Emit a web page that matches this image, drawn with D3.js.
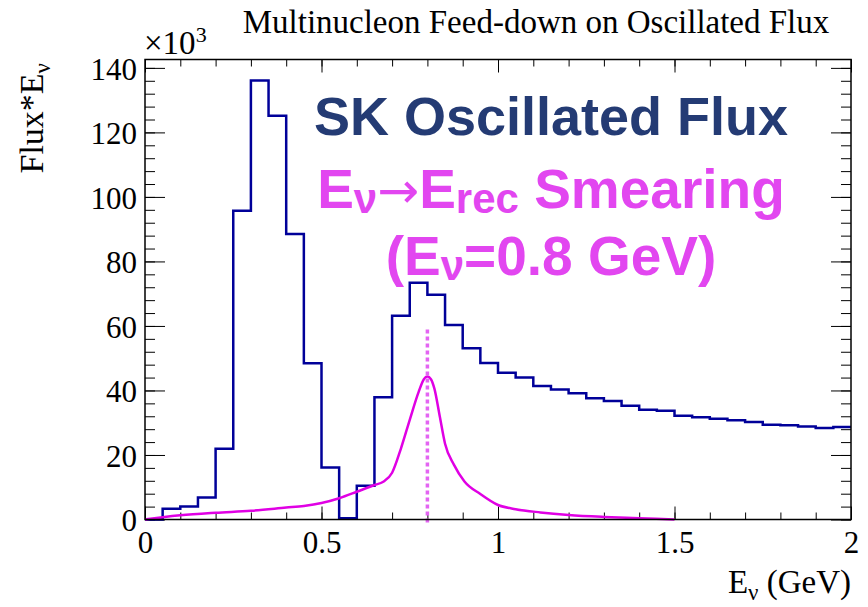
<!DOCTYPE html>
<html>
<head>
<meta charset="utf-8">
<script src="https://cdn.jsdelivr.net/npm/d3@7"></script>
<style>
  body { margin: 0; background: #fff; }
  svg { display: block; }
</style>
</head>
<body>
<div id="chart"></div>
<script>
// SK oscillated flux histogram, bins of 0.05 GeV from 0 to 2 (x10^3)
var binWidth = 0.05;
var fluxValues = [0, 3.3, 4.0, 6.8, 21.9, 95.7, 136.1, 125.2, 88.5, 48.4,
                  16.1, 0.4, 10.5, 37.9, 63.2, 73.4, 69.7, 60.3, 53.1, 48.5,
                  45.5, 44.0, 41.4, 40.3, 39.1, 37.6, 36.7, 35.3, 34.0, 33.7,
                  32.2, 31.7, 31.2, 30.8, 30.2, 29.4, 29.2, 28.8, 28.4, 28.7];

// Ev -> Erec smearing curve for Ev = 0.8 GeV
var smearE = [0, 0.05, 0.1, 0.2, 0.3, 0.4, 0.45, 0.5, 0.55, 0.6, 0.65, 0.675, 0.7,
              0.725, 0.75, 0.775, 0.79, 0.8, 0.81, 0.82, 0.835, 0.85, 0.875, 0.905,
              0.95, 1.0, 1.05, 1.12, 1.2, 1.3, 1.4, 1.5];
var smearValues = [0, 0.7, 1.3, 2.1, 2.7, 3.7, 4.2, 5.1, 6.6, 8.6, 10.7, 11.7, 14.5,
                   22.0, 30.9, 39.5, 43.5, 44.3, 43.5, 40.5, 32.0, 23.5, 17.0, 11.8,
                   7.9, 4.5, 3.2, 2.2, 1.4, 0.8, 0.4, 0];
var trueEnergy = 0.8;
var markerTop = 59;

var xMajorTicks = [0, 0.5, 1, 1.5, 2];
var yMajorTicks = [0, 20, 40, 60, 80, 100, 120, 140];

var width = 868,
    height = 607,
    margin = {top: 59.5, right: 17, bottom: 87.5, left: 145};

var serif = "'Liberation Serif', 'Times New Roman', serif";
var sans = "'Liberation Sans', Arial, sans-serif";
var navy = "#000099";
var magenta = "#e000e4";
var textMagenta = "#e246f0";

var svg = d3.select("#chart").append("svg")
    .attr("width", width)
    .attr("height", height);

var x = d3.scaleLinear().domain([0, 2]).range([margin.left, width - margin.right]);
var y = d3.scaleLinear().domain([0, 142.6]).range([height - margin.bottom, margin.top]);

var xMinor = d3.range(0, 21).map(function(i) { return i / 10; });
var yMinor = d3.range(0, 36).map(function(i) { return i * 4; });

// axes, ROOT style ticks pointing inward
function drawAxis(axis, tx, ty) {
    var g = svg.append("g").attr("transform", "translate(" + tx + "," + ty + ")").call(axis);
    g.attr("font-family", serif).attr("font-size", 31);
    g.select(".domain").remove();
    g.selectAll("line").attr("stroke", "#000").attr("stroke-width", 1);
    g.selectAll("text").attr("font-family", serif).attr("font-size", 31).attr("fill", "#000");
    return g;
}
var bottomY = y(0), topY = y(142.6), leftX = x(0), rightX = x(2);

drawAxis(d3.axisBottom(x).tickValues(xMinor).tickSize(-7).tickFormat(""), 0, bottomY);
drawAxis(d3.axisBottom(x).tickValues(xMajorTicks).tickSize(-13).tickPadding(11)
    .tickFormat(d3.format("")), 0, bottomY);
drawAxis(d3.axisTop(x).tickValues(xMinor).tickSize(-7).tickFormat(""), 0, topY);
drawAxis(d3.axisTop(x).tickValues(xMajorTicks).tickSize(-13).tickFormat(""), 0, topY);

drawAxis(d3.axisLeft(y).tickValues(yMinor).tickSize(-10).tickFormat(""), leftX, 0);
var yAx = drawAxis(d3.axisLeft(y).tickValues(yMajorTicks).tickSize(-20).tickPadding(8), leftX, 0);
yAx.selectAll("text").attr("dy", "0.36em");
drawAxis(d3.axisRight(y).tickValues(yMinor).tickSize(-10).tickFormat(""), rightX, 0);
drawAxis(d3.axisRight(y).tickValues(yMajorTicks).tickSize(-20).tickFormat(""), rightX, 0);

// histogram outline
var histPoints = fluxValues.map(function(v, i) { return [i * binWidth, v]; });
histPoints.unshift([0, 0]);
histPoints.push([fluxValues.length * binWidth, fluxValues[fluxValues.length - 1]]);

var stepLine = d3.line()
    .x(function(d) { return x(d[0]); })
    .y(function(d) { return y(d[1]); })
    .curve(d3.curveStepAfter);

svg.append("path")
    .datum(histPoints)
    .attr("d", stepLine)
    .attr("fill", "none")
    .attr("stroke", navy)
    .attr("stroke-width", 2.5);

// smearing curve
var smearLine = d3.line()
    .x(function(d, i) { return x(smearE[i]); })
    .y(function(d) { return y(d); })
    .curve(d3.curveMonotoneX);

svg.append("path")
    .datum(smearValues)
    .attr("d", smearLine)
    .attr("fill", "none")
    .attr("stroke", magenta)
    .attr("stroke-width", 2.5);

svg.append("line")
    .attr("x1", x(trueEnergy)).attr("x2", x(trueEnergy))
    .attr("y1", y(0) + 3).attr("y2", y(markerTop))
    .attr("stroke", "#e364f2")
    .attr("stroke-width", 3.5)
    .attr("stroke-dasharray", "4,3");

// frame
svg.append("rect")
    .attr("x", leftX).attr("y", topY)
    .attr("width", rightX - leftX).attr("height", bottomY - topY)
    .attr("fill", "none")
    .attr("stroke", "#000")
    .attr("stroke-width", 1.5);

// title and axis titles
svg.append("text")
    .attr("x", 536).attr("y", 33)
    .attr("text-anchor", "middle")
    .attr("font-family", serif).attr("font-size", 33)
    .text("Multinucleon Feed-down on Oscillated Flux");

var expo = svg.append("text")
    .attr("x", leftX - 1).attr("y", 54)
    .attr("font-family", serif).attr("font-size", 33);
expo.append("tspan").text("×10");
expo.append("tspan").attr("font-size", 22).attr("dy", -12).text("3");

var yTitle = svg.append("text")
    .attr("transform", "translate(43," + 63 + ") rotate(-90)")
    .attr("text-anchor", "end")
    .attr("font-family", serif).attr("font-size", 34);
yTitle.append("tspan").text("Flux*E");
yTitle.append("tspan").attr("font-size", 23).attr("dy", 7).text("ν");

var xTitle = svg.append("text")
    .attr("x", rightX).attr("y", 593)
    .attr("text-anchor", "end")
    .attr("font-family", serif).attr("font-size", 33);
xTitle.append("tspan").text("E");
xTitle.append("tspan").attr("font-size", 23).attr("dy", 7).text("ν");
xTitle.append("tspan").attr("dy", -7).text(" (GeV)");

// labels in the plot
svg.append("text")
    .attr("x", 551).attr("y", 135)
    .attr("text-anchor", "middle")
    .attr("font-family", sans).attr("font-weight", "bold").attr("font-size", 54)
    .attr("fill", "#243b74")
    .text("SK Oscillated Flux");

var line2 = svg.append("text")
    .attr("x", 551).attr("y", 208)
    .attr("text-anchor", "middle")
    .attr("font-family", sans).attr("font-weight", "bold").attr("font-size", 55)
    .attr("fill", textMagenta);
line2.append("tspan").text("E");
line2.append("tspan").attr("font-size", 42).attr("dy", 5).text("ν");
line2.append("tspan").attr("dy", -5).attr("font-weight", "normal")
    .attr("font-family", "'DejaVu Sans', sans-serif").attr("font-size", 50).text("→");
line2.append("tspan").text("E");
line2.append("tspan").attr("font-size", 42).attr("dy", 5).text("rec");
line2.append("tspan").attr("dy", -5).text(" Smearing");

var line3 = svg.append("text")
    .attr("x", 551).attr("y", 275)
    .attr("text-anchor", "middle")
    .attr("font-family", sans).attr("font-weight", "bold").attr("font-size", 55)
    .attr("fill", textMagenta);
line3.append("tspan").text("(E");
line3.append("tspan").attr("font-size", 42).attr("dy", 5).text("ν");
line3.append("tspan").attr("dy", -5).text("=0.8 GeV)");
</script>
</body>
</html>
